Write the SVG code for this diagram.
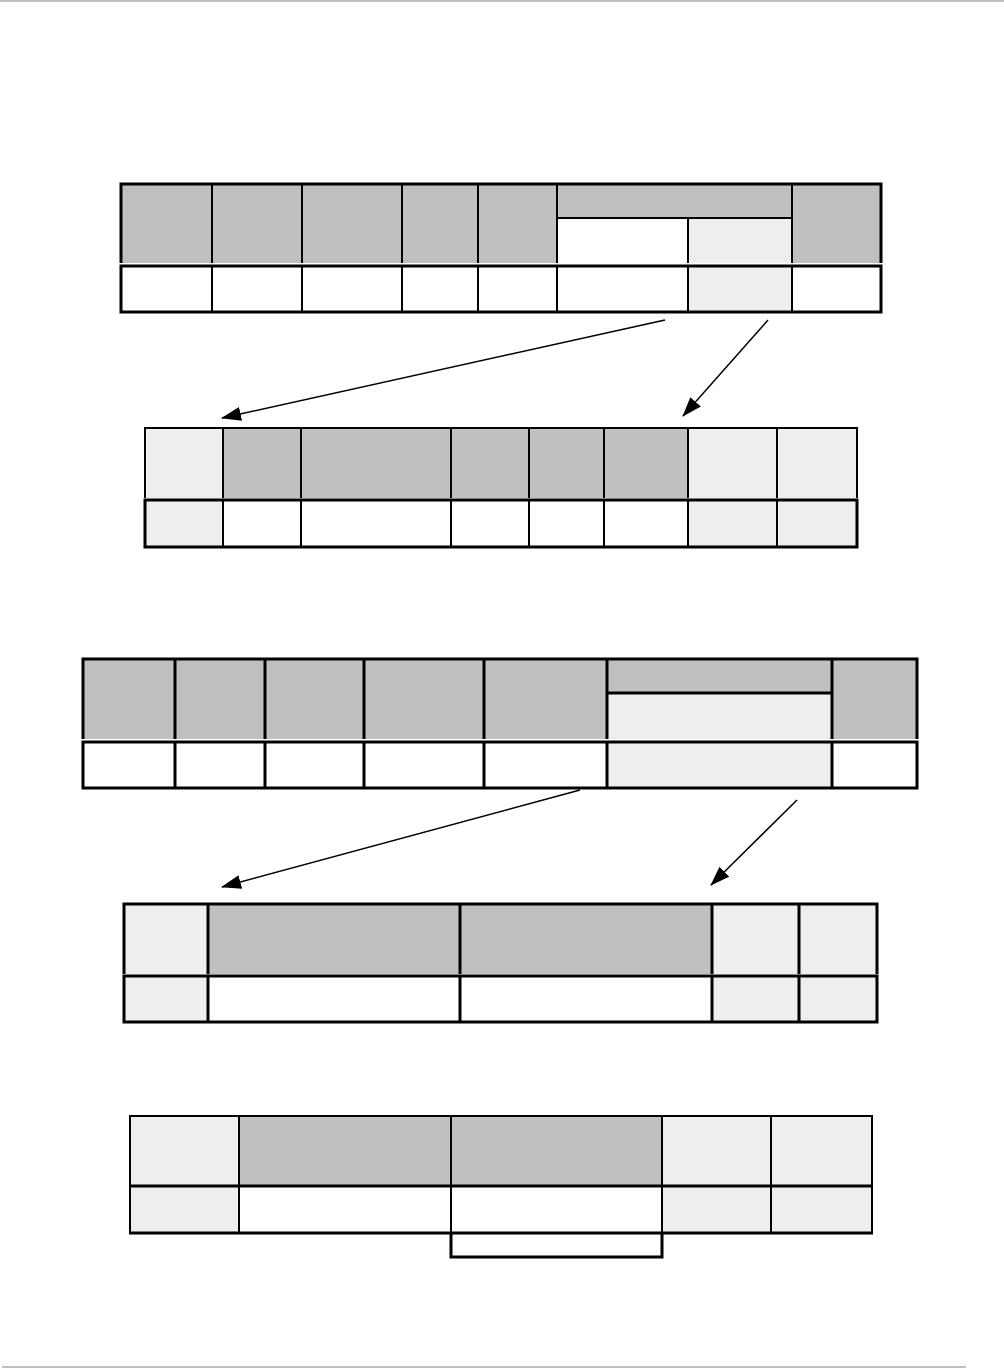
<svg xmlns="http://www.w3.org/2000/svg" width="1004" height="1368" viewBox="0 0 1004 1368">
<style>
.g{fill:#c0c0c0}
.l{fill:#eeeeee}
.w{fill:#ffffff}
.b{stroke:#000;stroke-width:2;fill:none}
.o{stroke:#000;stroke-width:3;fill:none}
.c{stroke:#000;stroke-width:1.5;fill:none}
</style>
<defs>
<marker id="ah" viewBox="0 0 20 14" refX="19" refY="7" markerWidth="20" markerHeight="14" markerUnits="userSpaceOnUse" orient="auto">
<path d="M0,0 L20,7 L0,14 Z" fill="#000"/>
</marker>
</defs>
<rect width="1004" height="1368" fill="#fff"/>
<rect x="0" y="0" width="1004" height="2" fill="#c0c0c0"/>
<rect x="2" y="1366" width="964" height="2" fill="#c0c0c0"/>

<g id="table1">
<rect class="g" x="121" y="184" width="760" height="79"/>
<rect class="w" x="557" y="218" width="131" height="45"/>
<rect class="l" x="688" y="218" width="104" height="45"/>
<rect class="l" x="688" y="266" width="104" height="46"/>
<path class="o" d="M121,263 V184 H881 V263"/>
<path class="o" d="M121,266 H881 V312 H121 Z"/>
<path class="b" d="M212,184 V263 M302,184 V263 M402,184 V263 M478,184 V263 M557,184 V263 M792,184 V263 M557,218 H792 M688,218 V263"/>
<path class="b" d="M212,266 V312 M302,266 V312 M402,266 V312 M478,266 V312 M557,266 V312 M688,266 V312 M792,266 V312"/>
</g>

<g id="table2">
<rect class="l" x="145" y="428" width="78" height="70"/>
<rect class="g" x="223" y="428" width="465" height="70"/>
<rect class="l" x="688" y="428" width="169" height="70"/>
<rect class="l" x="145" y="500" width="78" height="47"/>
<rect class="l" x="688" y="500" width="169" height="47"/>
<path class="b" d="M145,498 V428 H857 V498"/>
<path class="o" d="M145,500 H857 V547 H145 Z"/>
<path class="b" d="M223,428 V498 M301,428 V498 M451,428 V498 M529,428 V498 M604,428 V498 M688,428 V498 M777,428 V498"/>
<path class="b" d="M223,500 V547 M301,500 V547 M451,500 V547 M529,500 V547 M604,500 V547 M688,500 V547 M777,500 V547"/>
</g>

<g id="table3">
<rect class="g" x="83" y="659" width="834" height="80"/>
<rect class="l" x="607" y="693" width="225" height="46"/>
<rect class="l" x="607" y="742" width="225" height="46"/>
<path class="o" d="M83,739 V659 H917 V739"/>
<path class="o" d="M83,742 H917 V788 H83 Z"/>
<path class="o" d="M175,659 V739 M265,659 V739 M364,659 V739 M484,659 V739 M607,659 V739 M832,659 V739 M607,693 H832"/>
<path class="o" d="M175,742 V788 M265,742 V788 M364,742 V788 M484,742 V788 M607,742 V788 M832,742 V788"/>
</g>

<g id="table4">
<rect class="l" x="124" y="904" width="84" height="70"/>
<rect class="g" x="208" y="904" width="504" height="70"/>
<rect class="l" x="712" y="904" width="165" height="70"/>
<rect class="l" x="124" y="976" width="84" height="46"/>
<rect class="l" x="712" y="976" width="165" height="46"/>
<path class="o" d="M124,974 V904 H877 V974"/>
<path class="o" d="M124,976 H877 V1022 H124 Z"/>
<path class="o" d="M208,904 V974 M460,904 V974 M712,904 V974 M799,904 V974"/>
<path class="o" d="M208,976 V1022 M460,976 V1022 M712,976 V1022 M799,976 V1022"/>
</g>

<g id="table5">
<rect class="l" x="130" y="1116" width="109" height="70"/>
<rect class="g" x="239" y="1116" width="423" height="70"/>
<rect class="l" x="662" y="1116" width="210" height="70"/>
<rect class="l" x="130" y="1186" width="109" height="46"/>
<rect class="l" x="662" y="1186" width="210" height="46"/>
<path class="b" d="M130,1232 V1116 H872 V1232"/>
<path class="o" d="M130,1186 H872"/>
<path class="b" d="M239,1116 V1232 M451,1116 V1232 M662,1116 V1232 M771,1116 V1232"/>
<path class="o" d="M129,1233 H873"/>
<path class="o" d="M451,1233 V1257 H662 V1233"/>
</g>

<g id="connectors">
<line class="c" x1="665" y1="320" x2="222" y2="418" marker-end="url(#ah)"/>
<line class="c" x1="768" y1="320" x2="683" y2="416" marker-end="url(#ah)"/>
<line class="c" x1="580" y1="790" x2="222" y2="887" marker-end="url(#ah)"/>
<line class="c" x1="797" y1="800" x2="711" y2="885" marker-end="url(#ah)"/>
</g>
</svg>
